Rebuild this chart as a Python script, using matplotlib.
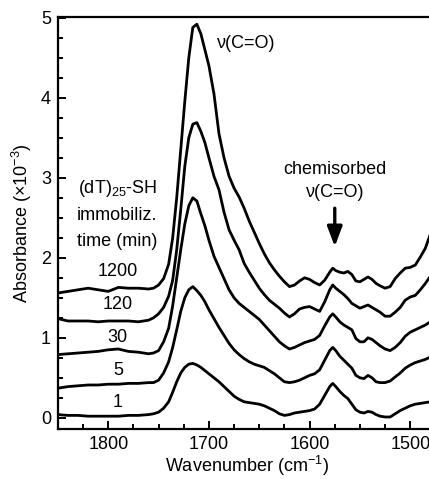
import matplotlib
matplotlib.use("Agg")
import matplotlib.pyplot as plt
from matplotlib.ticker import MultipleLocator

plt.rcParams['font.family'] = ['Liberation Sans', 'DejaVu Sans']
plt.rcParams['mathtext.fontset'] = 'custom'
plt.rcParams['mathtext.rm'] = 'Liberation Sans'
plt.rcParams['mathtext.it'] = 'Liberation Sans:italic'

# wavenumber grid (cm-1) shared by all spectra
wavenumber = [1850, 1840, 1830, 1820, 1810, 1800, 1790, 1780, 1770, 1760,
              1755, 1750, 1745, 1740, 1736, 1732, 1728, 1724, 1720, 1716,
              1712, 1708, 1704, 1700, 1695, 1690, 1685, 1680, 1675, 1670,
              1665, 1660, 1655, 1650, 1645, 1640, 1635, 1630, 1625, 1620,
              1615, 1610, 1605, 1600, 1595, 1590, 1585, 1580, 1577, 1574,
              1570, 1566, 1562, 1558, 1554, 1550, 1546, 1542, 1538, 1534,
              1530, 1525, 1520, 1515, 1510, 1505, 1500, 1495, 1490, 1485, 1480]

# absorbance (x10^-3), offset traces
abs_1200 = [1.56, 1.58, 1.60, 1.62, 1.60, 1.58, 1.63, 1.62, 1.62, 1.61,
            1.62, 1.66, 1.74, 1.92, 2.25, 2.75, 3.35, 3.95, 4.50, 4.88,
            4.92, 4.80, 4.60, 4.40, 4.05, 3.55, 3.25, 3.02, 2.87, 2.76,
            2.62, 2.46, 2.32, 2.18, 2.05, 1.94, 1.85, 1.77, 1.70, 1.64,
            1.66, 1.71, 1.75, 1.73, 1.69, 1.66, 1.72, 1.82, 1.87, 1.84,
            1.82, 1.81, 1.83, 1.79, 1.71, 1.70, 1.73, 1.76, 1.73, 1.68,
            1.65, 1.62, 1.64, 1.74, 1.81, 1.87, 1.88, 1.91, 2.01, 2.12, 2.30]
abs_120 = [1.24, 1.21, 1.21, 1.21, 1.20, 1.21, 1.21, 1.21, 1.20, 1.22,
           1.25, 1.30, 1.38, 1.52, 1.72, 2.10, 2.60, 3.14, 3.50, 3.67,
           3.69, 3.58, 3.44, 3.25, 3.02, 2.85, 2.57, 2.35, 2.22, 2.10,
           1.93, 1.82, 1.72, 1.62, 1.54, 1.47, 1.42, 1.37, 1.31, 1.26,
           1.30, 1.36, 1.38, 1.39, 1.36, 1.33, 1.45, 1.60, 1.66, 1.62,
           1.58, 1.54, 1.49, 1.43, 1.40, 1.37, 1.39, 1.41, 1.38, 1.35,
           1.32, 1.27, 1.27, 1.32, 1.38, 1.47, 1.51, 1.53, 1.60, 1.68, 1.77]
abs_30 = [0.79, 0.80, 0.81, 0.82, 0.83, 0.85, 0.86, 0.83, 0.82, 0.80,
          0.81, 0.84, 0.95, 1.12, 1.40, 1.75, 2.10, 2.42, 2.65, 2.75,
          2.71, 2.55, 2.40, 2.22, 2.02, 1.88, 1.74, 1.60, 1.50, 1.43,
          1.38, 1.33, 1.28, 1.23, 1.16, 1.09, 1.02, 0.95, 0.90, 0.86,
          0.88, 0.91, 0.94, 0.96, 0.98, 1.03, 1.15, 1.26, 1.30, 1.26,
          1.20, 1.16, 1.13, 1.10, 0.99, 0.95, 0.95, 1.00, 0.98, 0.94,
          0.90, 0.86, 0.84, 0.88, 0.94, 1.02, 1.07, 1.10, 1.13, 1.16, 1.20]
abs_5 = [0.37, 0.39, 0.40, 0.41, 0.41, 0.42, 0.42, 0.43, 0.43, 0.44,
         0.44, 0.47, 0.56, 0.70, 0.88, 1.10, 1.33, 1.50, 1.60, 1.64,
         1.59, 1.53, 1.45, 1.35, 1.24, 1.13, 1.03, 0.93, 0.85, 0.79,
         0.74, 0.70, 0.67, 0.65, 0.63, 0.59, 0.55, 0.50, 0.45, 0.44,
         0.45, 0.47, 0.50, 0.53, 0.55, 0.60, 0.72, 0.84, 0.88, 0.84,
         0.77, 0.72, 0.67, 0.62, 0.53, 0.50, 0.49, 0.53, 0.50, 0.45,
         0.44, 0.44, 0.46, 0.51, 0.56, 0.62, 0.66, 0.69, 0.71, 0.73, 0.76]
abs_1 = [0.04, 0.03, 0.03, 0.02, 0.02, 0.02, 0.02, 0.03, 0.03, 0.04,
         0.05, 0.07, 0.12, 0.20, 0.32, 0.45, 0.56, 0.63, 0.67, 0.68,
         0.66, 0.63, 0.59, 0.55, 0.50, 0.45, 0.39, 0.33, 0.27, 0.23,
         0.20, 0.19, 0.18, 0.17, 0.15, 0.12, 0.09, 0.05, 0.03, 0.04,
         0.06, 0.07, 0.08, 0.09, 0.11, 0.17, 0.28, 0.39, 0.43, 0.39,
         0.33, 0.28, 0.24, 0.17, 0.10, 0.07, 0.06, 0.08, 0.07, 0.04,
         0.02, 0.01, 0.01, 0.05, 0.09, 0.12, 0.15, 0.17, 0.18, 0.19, 0.20]

spectra = [abs_1, abs_5, abs_30, abs_120, abs_1200]
time_labels = ['1', '5', '30', '120', '1200']
label_y = [0.19, 0.59, 1.0, 1.41, 1.83]

fig = plt.figure(figsize=(4.29, 4.79), dpi=100)
ax = fig.add_axes([0.135, 0.1044, 0.88, 0.8601])

for spec in spectra:
    ax.plot(wavenumber, spec, color='black', lw=2.0,
            solid_joinstyle='round', solid_capstyle='round')

for lab, yy in zip(time_labels, label_y):
    ax.text(1790.5, yy, lab, ha='center', va='center', fontsize=13)

ax.text(1791, 2.86, '(dT)$_{25}$-SH', ha='center', va='center', fontsize=13)
ax.text(1791, 2.53, 'immobiliz.', ha='center', va='center', fontsize=13)
ax.text(1791, 2.20, 'time (min)', ha='center', va='center', fontsize=13)

ax.text(1692, 4.68, 'ν(C=O)', ha='left', va='center', fontsize=13)
ax.text(1575, 3.11, 'chemisorbed', ha='center', va='center', fontsize=13)
ax.text(1575, 2.82, 'ν(C=O)', ha='center', va='center', fontsize=13)
ax.annotate('', xy=(1575, 2.14), xytext=(1575, 2.62),
            arrowprops=dict(arrowstyle='-|>,head_length=0.8,head_width=0.3',
                            mutation_scale=15, lw=2.4, color='black',
                            shrinkA=0, shrinkB=0))

ax.set_xlim(1850, 1475)
ax.set_ylim(-0.14, 5.01)
ax.xaxis.set_major_locator(MultipleLocator(100))
ax.xaxis.set_minor_locator(MultipleLocator(25))
ax.yaxis.set_major_locator(MultipleLocator(1))
ax.yaxis.set_minor_locator(MultipleLocator(0.25))
ax.tick_params(which='both', direction='in', top=False, right=False,
               labelsize=13, width=1.4)
ax.tick_params(which='major', length=6)
ax.tick_params(which='minor', length=3.5)
ax.tick_params(axis='x', pad=5)
ax.tick_params(axis='y', pad=5)
for side in ['left', 'bottom', 'top']:
    ax.spines[side].set_linewidth(1.6)
ax.spines['right'].set_visible(False)

ax.set_xlabel('Wavenumber (cm$^{-1}$)', fontsize=13, labelpad=1)
ax.set_ylabel('Absorbance (×10$^{-3}$)', fontsize=13, labelpad=5)

fig.savefig('out.png', dpi=100)
